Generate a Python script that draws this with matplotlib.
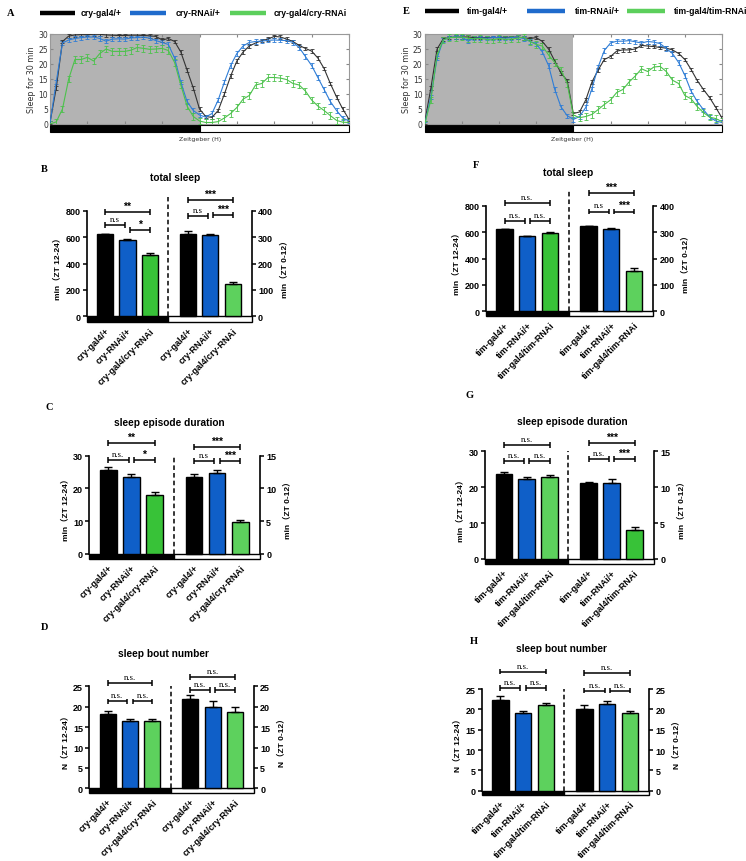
import numpy as np
import matplotlib.pyplot as plt
from matplotlib.lines import Line2D
from matplotlib.patches import Rectangle
from matplotlib.transforms import blended_transform_factory

W, H = 746, 862
SANS = ['Liberation Sans', 'DejaVu Sans']
SANS_CJK = ['Liberation Sans', 'Noto Sans CJK SC']
SERIF = ['Liberation Serif', 'DejaVu Serif']

# ---- sleep profiles: min of sleep per 30-min bin, ZT12 -> ZT12 ----
cry_gal4 = [0.5, 12, 27.5, 29.3, 29.7, 29.8, 29.8, 29.9, 29.9, 29.7, 29.6, 29.5, 29.5,
            29.6, 29.6, 29.5, 29.4, 29.2, 28, 28.5, 27.5, 24, 18, 12, 5, 2.5, 2.2, 4.5,
            10, 16, 21, 24, 26, 27, 27.8, 28.3, 29.2, 29, 28.3, 27.5, 26.2, 25.2, 24.3,
            22, 18.5, 13.5, 9, 5, 1.5]
cry_rnai = [0.3, 14, 27, 28, 28.5, 28.8, 29, 29, 28.5, 27.6, 28.3, 28.4, 28.3, 28.7,
            28.8, 29, 28.6, 27.8, 27.2, 26.5, 22, 14, 7.5, 4.5, 3, 2.3, 3.5, 8, 14, 19.5,
            23.5, 26, 27.2, 27.5, 27.6, 27.9, 28, 27.9, 27.8, 27.2, 25.5, 22.5, 19.5,
            15.5, 11.5, 7.5, 4.5, 2, 1]
cry_kd = [0, 0.7, 5, 15, 21.5, 21.5, 22.2, 21, 23.5, 25, 24.2, 24.2, 24.2, 24.6, 25.5,
          25.2, 24.9, 25, 25.2, 24.5, 20.5, 13, 6, 2.5, 1, 0.5, 0.5, 0.8, 2, 3.5, 5.5,
          8.3, 9.5, 13, 13.5, 15.5, 15.5, 15.3, 14.8, 13.5, 13, 11, 8, 6, 4.5, 2.8, 1.2,
          0.6, 0.5]
tim_gal4 = [0.5, 12, 25, 28.4, 28.8, 29, 29, 29, 28.8, 28.8, 28.8, 28.8, 28.8, 28.9,
            28.9, 29, 28.7, 28.5, 28.8, 27.5, 25, 21, 17, 14.5, 3.5, 4, 8, 14, 18, 21.5,
            22.5, 24.3, 24.7, 24.7, 25, 26.2, 26, 25.8, 25.5, 25.3, 24.7, 23.5, 21.5,
            18.2, 14.5, 11.5, 8.8, 5.5, 2]
tim_rnai = [0, 9, 22, 28, 28.8, 29, 29, 27.6, 28.6, 28.7, 28.6, 28.8, 28.8, 28.6, 28.8,
            29, 28.5, 27.5, 26.8, 24, 19.5, 11.5, 5.7, 2.8, 1.5, 2.5, 5.5, 11.8, 19, 24.5,
            27, 27.6, 27.6, 27.8, 27.4, 27, 27.5, 27.3, 26.8, 25.2, 23.5, 20.5, 16.2, 11,
            7.5, 4.8, 2.3, 1, 0.5]
tim_kd = [0, 8, 23, 28, 28.8, 28.9, 29, 28.6, 28.4, 28.5, 28.2, 28, 28.5, 28.2, 28.3,
          28.6, 29, 27.5, 26.5, 26, 23, 20.5, 18, 13.5, 3, 2.1, 2.5, 3.2, 4.8, 6.5, 8,
          10.5, 11.5, 14, 16, 18.4, 17.5, 19, 19.2, 17.5, 14.6, 13.5, 9.5, 8.4, 5.8, 3.8,
          2.3, 1.8, 0.8]
profile_sem = [0.6, 0.7, 1.1]

cry_names = ["cry-gal4/+", "cry-RNAi/+", "cry-gal4/cry-RNAi"]
tim_names = ["tim-gal4/+", "tim-RNAi/+", "tim-gal4/tim-RNAi"]

# ---- bar data: night (ZT 12-24, left axis) and day (ZT 0-12, right axis) ----
cry_total_night, cry_total_night_err = [623, 578, 464], [4, 4, 15]
cry_total_day, cry_total_day_err = [312, 308, 122], [11, 3, 9]
cry_episode_night, cry_episode_night_err = [25.6, 23.4, 18.1], [1.1, 1.1, 0.7]
cry_episode_day, cry_episode_day_err = [11.8, 12.35, 4.9], [0.4, 0.5, 0.3]
cry_bouts_night, cry_bouts_night_err = [18.3, 16.6, 16.6], [0.6, 0.5, 0.5]
cry_bouts_day, cry_bouts_day_err = [21.9, 20.0, 18.8], [0.9, 1.5, 1.2]

tim_total_night, tim_total_night_err = [623, 568, 593], [2, 4, 5]
tim_total_day, tim_total_day_err = [324, 313, 153], [1, 3, 10]
tim_episode_night, tim_episode_night_err = [23.8, 22.4, 22.9], [0.3, 0.4, 0.6]
tim_episode_day, tim_episode_day_err = [10.6, 10.6, 4.0], [0.15, 0.5, 0.4]
tim_bouts_night, tim_bouts_night_err = [22.4, 19.0, 21.0], [0.8, 0.5, 0.6]
tim_bouts_day, tim_bouts_day_err = [20.2, 21.3, 19.0], [0.8, 0.7, 0.6]

# significance brackets: (bar i, bar j, height, label)
cry_total_sig = [(0, 1, 690, "n.s"), (1, 2, 656, "*"), (0, 2, 787, "**")], \
                [(0, 1, 380, "n.s"), (1, 2, 382, "***"), (0, 2, 440, "***")]
cry_episode_sig = [(0, 1, 28.7, "n.s."), (1, 2, 28.7, "*"), (0, 2, 33.8, "**")], \
                  [(0, 1, 14.2, "n.s"), (1, 2, 14.2, "***"), (0, 2, 16.3, "***")]
cry_bouts_sig = [(0, 1, 21.3, "n.s."), (1, 2, 21.3, "n.s."), (0, 2, 25.8, "n.s.")], \
                [(0, 1, 24.1, "n.s."), (1, 2, 24.1, "n.s."), (0, 2, 27.2, "n.s.")]
tim_total_sig = [(0, 1, 681, "n.s."), (1, 2, 681, "n.s."), (0, 2, 818, "n.s.")], \
                [(0, 1, 378, "n.s"), (1, 2, 378, "***"), (0, 2, 447, "***")]
tim_episode_sig = [(0, 1, 27.4, "n.s."), (1, 2, 27.4, "n.s."), (0, 2, 31.8, "n.s.")], \
                  [(0, 1, 13.9, "n.s."), (1, 2, 13.9, "***"), (0, 2, 16.1, "***")]
tim_bouts_sig = [(0, 1, 25.2, "n.s."), (1, 2, 25.2, "n.s."), (0, 2, 29.3, "n.s.")], \
                [(0, 1, 24.6, "n.s."), (1, 2, 24.6, "n.s."), (0, 2, 28.9, "n.s.")]

BLUE = '#0f5fc8'
GREEN_DARK = '#38c238'
GREEN_LIGHT = '#5dd15d'
LINE_COLORS = ['#333333', '#2f7dd6', '#4cc24c']
LEGEND_COLORS = ['#000000', '#1f6bcc', '#5ccf5c']

hours = np.arange(len(cry_gal4)) * 0.5

fig = plt.figure(figsize=(W / 100, H / 100), dpi=100)


def px_rect(l, t, r, b):
    return [l / W, 1 - b / H, (r - l) / W, (b - t) / H]


def ftext(x, y, s, **kw):
    fig.text(x / W, 1 - y / H, s, **kw)


def line_panel(px, profiles, names, leg_lines, leg_text, leg_y, zeit_x):
    l, t, r, b = px
    ax = fig.add_axes(px_rect(l, t, r, b))
    ax.axvspan(0, 12, color='#b3b3b3', lw=0, zorder=0)
    for vals, sem, c in zip(profiles, profile_sem, LINE_COLORS):
        ax.errorbar(hours, vals, yerr=sem, color=c, lw=0.8, elinewidth=0.6,
                    capsize=1.3, capthick=0.6, zorder=3)
    ax.set_xlim(0, 24)
    ax.set_ylim(0, 30)
    ax.set_yticks(range(0, 31, 5))
    ax.set_xticks(np.arange(0, 25, 3))
    ax.tick_params(axis='x', direction='in', length=2, top=True, labelbottom=False,
                   color='#888888')
    ax.tick_params(axis='y', direction='in', length=2, right=True, labelsize=5.5,
                   pad=1.5, color='#888888', labelcolor='#333333')
    for s in ax.spines.values():
        s.set_color('#999999')
        s.set_linewidth(0.8)
    tr = blended_transform_factory(ax.transData, ax.transAxes)
    ax.add_patch(Rectangle((0, -0.085), 12, 0.07, transform=tr, facecolor='k',
                           edgecolor='k', lw=0.8, clip_on=False))
    ax.add_patch(Rectangle((12, -0.085), 12, 0.07, transform=tr, facecolor='white',
                           edgecolor='k', lw=0.8, clip_on=False))
    ax.set_ylabel('Sleep for 30 min', fontsize=5.8, labelpad=1.5, color='#333333')
    ftext(zeit_x, 140, 'Zeitgeber (H)', fontsize=4.5, color='#333333', ha='center',
          va='center')
    for (x0, x1), tx, c, name in zip(leg_lines, leg_text, LEGEND_COLORS, names):
        fig.add_artist(Line2D([x0 / W, x1 / W], [1 - leg_y / H] * 2, lw=3.2, color=c,
                              solid_capstyle='butt'))
        ftext(tx, leg_y, name, fontsize=6.2, fontweight='bold', family=SANS,
              ha='left', va='center')


POS_L = np.array([0.0, 1.0, 2.0])
POS_R = np.array([3.7, 4.7, 5.7])
XLIM = (-0.82, 6.55)
DASH_X = 2.82


def bracket(ax, pos, i, j, y, label, ymax):
    x0 = pos[i] + (0.12 if i == 1 else 0.0)
    x1 = pos[j] - (0.12 if j == 1 else 0.0)
    h = ymax * 0.028
    kw = dict(color='k', lw=1.1, clip_on=False, zorder=5, solid_capstyle='butt')
    ax.plot([x0, x1], [y, y], **kw)
    ax.plot([x0, x0], [y - h, y + h], **kw)
    ax.plot([x1, x1], [y - h, y + h], **kw)
    if '*' in label:
        ax.text((x0 + x1) / 2, y + h * 0.4, label, ha='center', va='bottom',
                fontsize=7.5, fontweight='bold', family=SANS)
    else:
        ax.text((x0 + x1) / 2, y + h * 0.7, label, ha='center', va='bottom',
                fontsize=6.3, family=SERIF)


def bar_panel(px, title, title_xy, letter, letter_xy, names, night, night_err, day,
              day_err, lmax, lstep, rmax, rstep, unit, sig, greens, dash_top):
    l, t, r, zero, bb = px
    ax = fig.add_axes(px_rect(l, t, r, bb))
    band = lmax * (bb - zero) / (zero - t)
    ax.set_xlim(*XLIM)
    ax.set_ylim(-band, lmax)
    ax2 = ax.twinx()
    ax2.set_ylim(-band * rmax / lmax, rmax)

    ekw = dict(elinewidth=1, capthick=1, ecolor='k')
    ax.bar(POS_L, night, width=0.72, yerr=[[0] * 3, night_err], capsize=3,
           color=['k', BLUE, greens[0]], edgecolor='k', lw=1, error_kw=ekw, zorder=3)
    ax2.bar(POS_R, day, width=0.72, yerr=[[0] * 3, day_err], capsize=3,
            color=['k', BLUE, greens[1]], edgecolor='k', lw=1, error_kw=ekw, zorder=3)

    ax.add_patch(Rectangle((XLIM[0], -band), DASH_X - XLIM[0], band, facecolor='k',
                           edgecolor='k', lw=1, zorder=1, clip_on=False))
    ax.add_patch(Rectangle((DASH_X, -band), XLIM[1] - DASH_X, band, facecolor='white',
                           edgecolor='k', lw=1, zorder=1, clip_on=False))
    ax.plot([DASH_X] * 2, [0, dash_top * lmax], color='k', ls=(0, (3, 2)), lw=1.1,
            clip_on=False, zorder=4)

    for s in ['top', 'bottom', 'right']:
        ax.spines[s].set_visible(False)
    for s in ['top', 'bottom', 'left']:
        ax2.spines[s].set_visible(False)
    ax.spines['left'].set_bounds(0, lmax)
    ax2.spines['right'].set_bounds(0, rmax)
    ax.spines['left'].set_linewidth(1.2)
    ax2.spines['right'].set_linewidth(1.2)

    lt = np.arange(0, lmax + 1, lstep)
    rt = np.arange(0, rmax + 1, rstep)
    ax.set_yticks(lt, [f'{v:g}' for v in lt], fontsize=6.5, fontweight='bold',
                  family=SANS)
    ax2.set_yticks(rt, [f'{v:g}' for v in rt], fontsize=6.5, fontweight='bold',
                   family=SANS)
    ax.tick_params(axis='y', length=3, width=1.1, pad=1.5)
    ax2.tick_params(axis='y', length=3, width=1.1, pad=1.5)
    ax.set_xticks(np.r_[POS_L, POS_R], names * 2, rotation=45, ha='right',
                  rotation_mode='anchor', fontsize=6.5, fontweight='bold', family=SANS)
    ax.tick_params(axis='x', length=0, pad=3)

    ax.set_ylabel(f'{unit}（ZT 12-24）', fontsize=6, fontweight='bold',
                  family=SANS_CJK, labelpad=3)
    ax2.set_ylabel(f'{unit}（ZT 0-12）', fontsize=6, fontweight='bold',
                   family=SANS_CJK, labelpad=5)

    for i, j, y, lab in sig[0]:
        bracket(ax, POS_L, i, j, y, lab, lmax)
    for i, j, y, lab in sig[1]:
        bracket(ax2, POS_R, i, j, y, lab, rmax)

    ftext(*title_xy, title, fontsize=7.3, fontweight='bold', family=SANS, ha='center',
          va='center')
    ftext(*letter_xy, letter, fontsize=7.5, fontweight='bold', family=SERIF,
          ha='left', va='center')


# ---- sleep profiles ----
line_panel((50, 35, 349, 125), [cry_gal4, cry_rnai, cry_kd], cry_names,
           [(40, 75), (130, 166), (230, 266)], [81, 176, 274], 14, 200)
ftext(7, 13, 'A', fontsize=7.5, fontweight='bold', family=SERIF, va='center')
line_panel((424.7, 35, 722, 125), [tim_gal4, tim_rnai, tim_kd], tim_names,
           [(425, 459), (527, 565), (627, 665)], [467, 575, 674], 12, 572)
ftext(403, 12, 'E', fontsize=7.5, fontweight='bold', family=SERIF, va='center')

# ---- cry bar panels ----
bar_panel((86.7, 211.7, 251.7, 317.3, 323), 'total sleep', (175, 178), 'B', (41, 170),
          cry_names, cry_total_night, cry_total_night_err, cry_total_day,
          cry_total_day_err, 800, 200, 400, 100, 'min', cry_total_sig,
          (GREEN_DARK, GREEN_LIGHT), 1.13)
bar_panel((89.3, 456.7, 260, 555, 560), 'sleep episode duration', (169, 422.7), 'C',
          (46, 408), cry_names, cry_episode_night, cry_episode_night_err,
          cry_episode_day, cry_episode_day_err, 30, 10, 15, 5, 'min', cry_episode_sig,
          (GREEN_DARK, GREEN_LIGHT), 1.0)
bar_panel((89.3, 687.3, 254, 789.3, 794), 'sleep bout number', (163, 654), 'D',
          (41, 628), cry_names, cry_bouts_night, cry_bouts_night_err, cry_bouts_day,
          cry_bouts_day_err, 25, 5, 25, 5, 'N', cry_bouts_sig,
          (GREEN_LIGHT, GREEN_LIGHT), 1.0)

# ---- tim bar panels ----
bar_panel((486, 206.7, 653.3, 312.3, 317.3), 'total sleep', (568, 172.7), 'F',
          (473, 166), tim_names, tim_total_night, tim_total_night_err, tim_total_day,
          tim_total_day_err, 800, 200, 400, 100, 'min', tim_total_sig,
          (GREEN_DARK, GREEN_LIGHT), 1.14)
bar_panel((485, 452.3, 654, 560, 565), 'sleep episode duration', (572.7, 421.7), 'G',
          (466, 396), tim_names, tim_episode_night, tim_episode_night_err,
          tim_episode_day, tim_episode_day_err, 30, 10, 15, 5, 'min', tim_episode_sig,
          (GREEN_LIGHT, GREEN_DARK), 1.0)
bar_panel((481.7, 690, 649.3, 791.7, 796), 'sleep bout number', (561.7, 649), 'H',
          (470, 642), tim_names, tim_bouts_night, tim_bouts_night_err, tim_bouts_day,
          tim_bouts_day_err, 25, 5, 25, 5, 'N', tim_bouts_sig,
          (GREEN_LIGHT, GREEN_LIGHT), 1.0)

fig.savefig('out.png', dpi=100)
